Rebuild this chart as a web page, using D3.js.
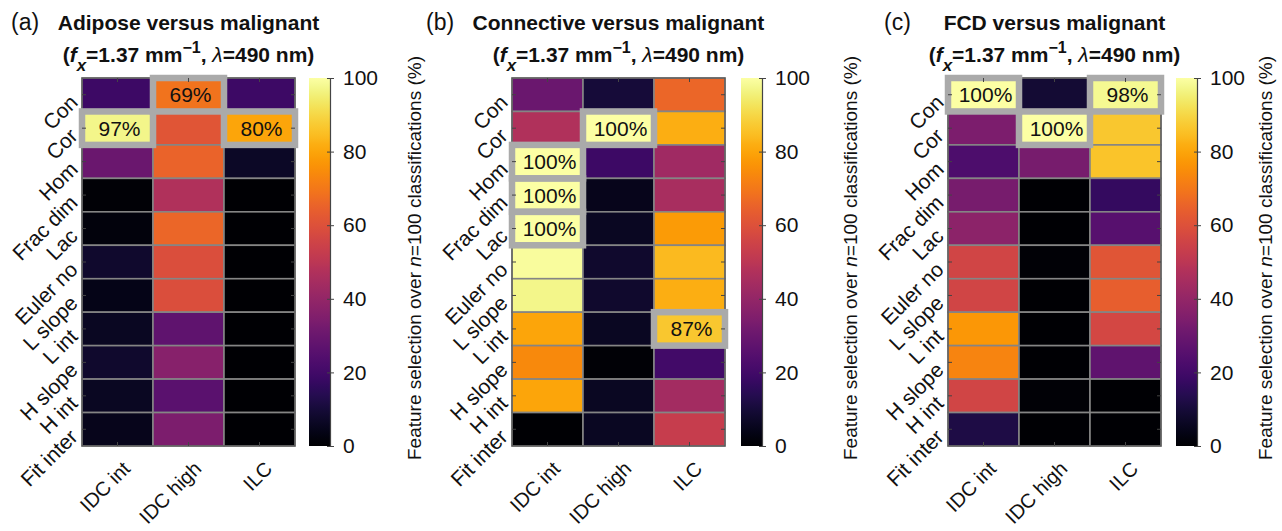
<!DOCTYPE html>
<html>
<head>
<meta charset="utf-8">
<script src="https://cdn.jsdelivr.net/npm/d3@7"></script>
<style>
  html, body { margin: 0; padding: 0; background: #fff; }
  svg { display: block; font-family: "Liberation Sans", Arial, sans-serif; }
</style>
</head>
<body>
<svg id="chart" width="1282" height="531"></svg>
<script>
// Texture features (rows) and tumour subtypes (columns)
const features = ["Con", "Cor", "Hom", "Frac dim", "Lac", "Euler no", "L slope", "L int", "H slope", "H int", "Fit inter"];
const subtypes = ["IDC int", "IDC high", "ILC"];
const colorTicks = [0, 20, 40, 60, 80, 100];

// Percentage of the n=100 classifications in which each feature was selected
const adiposeIdcInt  = [19, 97, 30, 1, 2, 8, 4, 6, 8, 6, 5];
const adiposeIdcHigh = [69, 61, 65, 47, 66, 59, 59, 27, 37, 26, 34];
const adiposeIlc     = [19, 80, 7, 0, 0, 0, 0, 0, 0, 0, 0];

const connectiveIdcInt  = [30, 47, 100, 100, 100, 99, 97, 80, 74, 80, 0];
const connectiveIdcHigh = [10, 100, 19, 5, 6, 8, 8, 6, 1, 6, 6];
const connectiveIlc     = [66, 82, 43, 45, 78, 84, 82, 87, 20, 44, 53];

const fcdIdcInt  = [100, 34, 23, 33, 38, 56, 56, 77, 73, 56, 12];
const fcdIdcHigh = [9, 100, 33, 0, 0, 1, 0, 0, 0, 1, 0];
const fcdIlc     = [98, 87, 86, 17, 25, 61, 64, 57, 27, 0, 0];

// Cells that are outlined and annotated: [feature index, subtype index]
const adiposeMarked    = [[0, 1], [1, 0], [1, 2]];
const connectiveMarked = [[1, 1], [2, 0], [3, 0], [4, 0], [7, 2]];
const fcdMarked        = [[0, 0], [0, 2], [1, 1]];

const panels = [
  { tag: "(a)", title: "Adipose versus malignant", cols: [adiposeIdcInt, adiposeIdcHigh, adiposeIlc], marked: adiposeMarked,
    tagX: 11, mapX: 82, barX: 309, labelX: 414 },
  { tag: "(b)", title: "Connective versus malignant", cols: [connectiveIdcInt, connectiveIdcHigh, connectiveIlc], marked: connectiveMarked,
    tagX: 426, mapX: 512, barX: 741, labelX: 850 },
  { tag: "(c)", title: "FCD versus malignant", cols: [fcdIdcInt, fcdIdcHigh, fcdIlc], marked: fcdMarked,
    tagX: 884, mapX: 948, barX: 1176, labelX: 1265 }
];

const mapW = 213, mapTop = 78, mapBottom = 446, barW = 21;
const svg = d3.select("#chart");
const color = v => d3.interpolateInferno(v / 100);

// shared gradient for the colour bars
const defs = svg.append("defs");
const grad = defs.append("linearGradient").attr("id", "inferno")
  .attr("x1", 0).attr("y1", 1).attr("x2", 0).attr("y2", 0);
d3.range(0, 1.0001, 0.02).forEach(t => {
  grad.append("stop").attr("offset", t).attr("stop-color", d3.interpolateInferno(t));
});
const soft = defs.append("filter").attr("id", "soft").attr("x", "-10%").attr("y", "-10%").attr("width", "120%").attr("height", "120%");
soft.append("feGaussianBlur").attr("stdDeviation", 0.7);

panels.forEach(p => {
  const g = svg.append("g");
  const x = d3.scaleBand().domain(subtypes).range([p.mapX, p.mapX + mapW]);
  const y = d3.scaleBand().domain(features).range([mapTop, mapBottom]);
  const cx = p.mapX + mapW / 2;

  // panel tag and two-line title
  g.append("text").attr("x", p.tagX).attr("y", 30).attr("font-size", 23).attr("fill", "#111").text(p.tag);
  g.append("text").attr("x", cx).attr("y", 30).attr("text-anchor", "middle")
    .attr("font-size", 21).attr("font-weight", "bold").attr("fill", "#111").text(p.title);
  const t2 = g.append("text").attr("x", cx).attr("y", 62).attr("text-anchor", "middle")
    .attr("font-size", 21).attr("font-weight", "bold").attr("fill", "#111");
  t2.append("tspan").text("(");
  t2.append("tspan").attr("font-style", "italic").text("f");
  t2.append("tspan").attr("font-style", "italic").attr("font-size", 17).attr("dy", 9).text("x");
  t2.append("tspan").attr("dy", -9).text("=1.37 mm");
  t2.append("tspan").attr("font-size", 16).attr("dy", -9).text("\u22121");
  t2.append("tspan").attr("dy", 9).text(", ");
  t2.append("tspan").attr("font-weight", "normal").attr("font-style", "italic").text("\u03bb");
  t2.append("tspan").text("=490 nm)");

  // heatmap cells
  const cells = [];
  p.cols.forEach((col, j) => col.forEach((v, i) => cells.push({ f: features[i], s: subtypes[j], v })));
  g.selectAll("rect.cell").data(cells).join("rect").attr("class", "cell")
    .attr("x", d => x(d.s)).attr("y", d => y(d.f))
    .attr("width", x.bandwidth()).attr("height", y.bandwidth())
    .attr("fill", d => color(d.v))
    .attr("stroke", "#858585").attr("stroke-width", 1.6);

  // outer frame
  g.append("rect").attr("x", p.mapX).attr("y", mapTop).attr("width", mapW).attr("height", mapBottom - mapTop)
    .attr("fill", "none").attr("stroke", "#555").attr("stroke-width", 1.2);

  // outlined cells
  const marked = p.marked.map(([i, j]) => ({ f: features[i], s: subtypes[j], v: p.cols[j][i] }));
  g.selectAll("rect.mark").data(marked).join("rect").attr("class", "mark")
    .attr("x", d => x(d.s)).attr("y", d => y(d.f))
    .attr("width", x.bandwidth()).attr("height", y.bandwidth())
    .attr("fill", "none").attr("stroke", "#aaaaaa").attr("stroke-width", 6.5)
    .attr("filter", "url(#soft)");
  g.selectAll("text.mark").data(marked).join("text").attr("class", "mark")
    .attr("x", d => x(d.s) + x.bandwidth() / 2 + 2).attr("y", d => y(d.f) + y.bandwidth() / 2)
    .attr("dy", "0.36em").attr("text-anchor", "middle").attr("font-size", 21).attr("fill", "#111")
    .text(d => d.v + "%");

  // small inward ticks on all four sides
  const tk = g.append("g").attr("stroke", "#444").attr("stroke-width", 1);
  subtypes.forEach(s => {
    const xc = x(s) + x.bandwidth() / 2;
    tk.append("line").attr("x1", xc).attr("x2", xc).attr("y1", mapTop).attr("y2", mapTop + 4);
    tk.append("line").attr("x1", xc).attr("x2", xc).attr("y1", mapBottom).attr("y2", mapBottom - 4);
  });
  features.forEach(f => {
    const yc = y(f) + y.bandwidth() / 2;
    tk.append("line").attr("x1", p.mapX).attr("x2", p.mapX + 4).attr("y1", yc).attr("y2", yc);
    tk.append("line").attr("x1", p.mapX + mapW).attr("x2", p.mapX + mapW - 4).attr("y1", yc).attr("y2", yc);
  });

  // rotated axis labels
  g.selectAll("text.ylab").data(features).join("text").attr("class", "ylab")
    .attr("transform", f => `translate(${p.mapX - 3},${y(f) + y.bandwidth() / 2 + 9}) rotate(-45)`)
    .attr("text-anchor", "end").attr("font-size", 21).attr("fill", "#111").text(f => f);
  g.selectAll("text.xlab").data(subtypes).join("text").attr("class", "xlab")
    .attr("transform", s => `translate(${x(s) + x.bandwidth() / 2 + 14},${mapBottom + 24}) rotate(-45)`)
    .attr("text-anchor", "end").attr("font-size", 20).attr("fill", "#111").text(s => s);

  // colour bar
  const cScale = d3.scaleLinear().domain([0, 100]).range([mapBottom, mapTop]);
  g.append("rect").attr("x", p.barX).attr("y", mapTop).attr("width", barW).attr("height", mapBottom - mapTop)
    .attr("fill", "url(#inferno)");
  const ax = g.append("g").attr("transform", `translate(${p.barX + barW},0)`)
    .call(d3.axisRight(cScale).tickValues(colorTicks).tickSize(4).tickPadding(9));
  ax.select(".domain").attr("stroke", "#444").attr("stroke-width", 1.2);
  ax.selectAll(".tick line").attr("stroke", "#444").attr("x1", -3);
  ax.selectAll(".tick text").attr("font-size", 21).attr("fill", "#111")
    .attr("font-family", "Liberation Sans, Arial, sans-serif");

  const lab = g.append("text").attr("transform", `translate(${p.labelX},${(mapTop + mapBottom) / 2 - 4}) rotate(-90)`)
    .attr("text-anchor", "middle").attr("dy", "0.35em").attr("font-size", 19).attr("fill", "#111");
  lab.append("tspan").text("Feature selection over ");
  lab.append("tspan").attr("font-style", "italic").text("n");
  lab.append("tspan").text("=100 classifications (%)");
});
</script>
</body>
</html>
